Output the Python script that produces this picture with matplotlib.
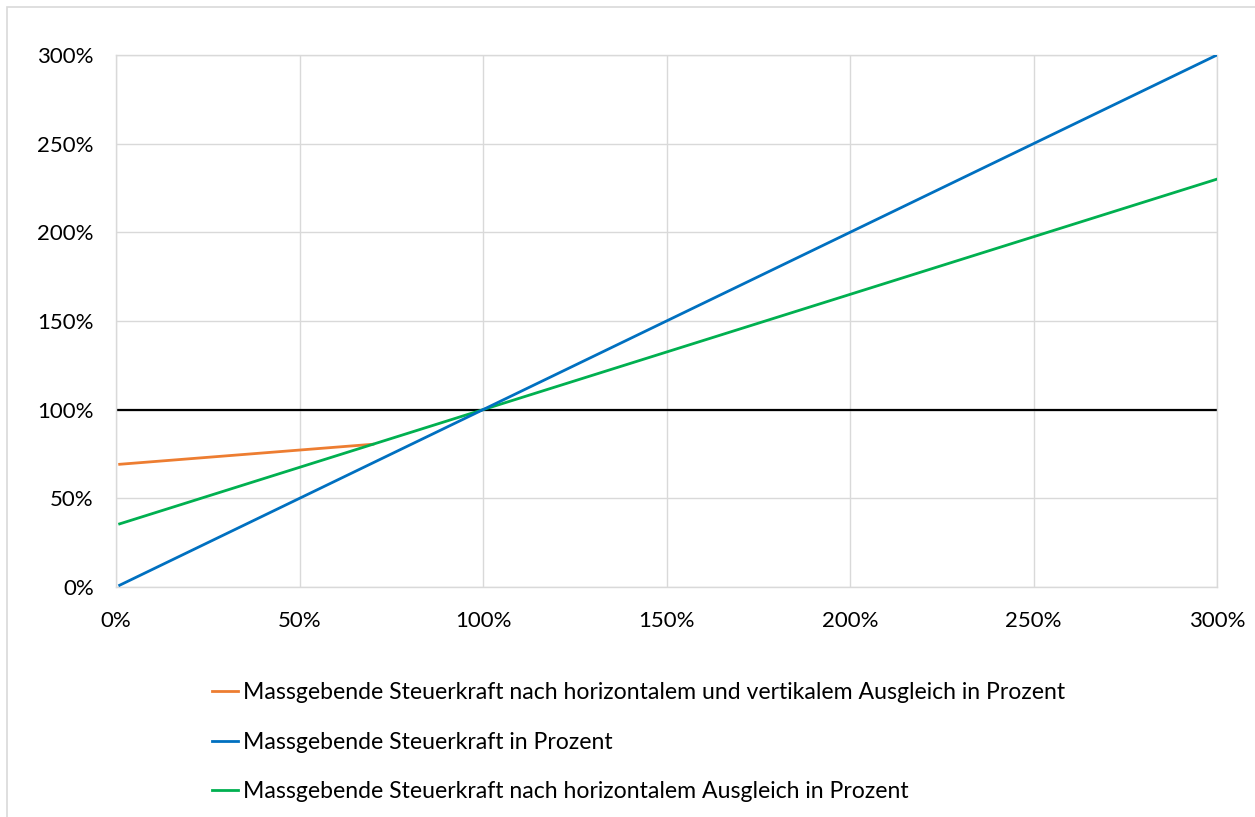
import matplotlib
matplotlib.use("Agg")
import matplotlib.pyplot as plt
from matplotlib.patches import Rectangle
from matplotlib.ticker import PercentFormatter

plt.rcParams['font.family'] = ['Lato', 'DejaVu Sans']

# Data (percent)
orange_x = [1, 70]
orange_y = [69.2, 80.5]
blue_x = [1, 100, 300]
blue_y = [1, 100, 300]
green_x = [1, 100, 300]
green_y = [35.6, 100, 230]
ref_level = 100

labels = [
    "Massgebende Steuerkraft nach horizontalem und vertikalem Ausgleich in Prozent",
    "Massgebende Steuerkraft in Prozent",
    "Massgebende Steuerkraft nach horizontalem Ausgleich in Prozent",
]
ticks = [0, 50, 100, 150, 200, 250, 300]

W, H = 1255, 817
fig = plt.figure(figsize=(W / 100, H / 100), dpi=100)
fig.patches.append(Rectangle((7 / W, -0.1), 1.2, 1 - 7 / H + 0.1, transform=fig.transFigure,
                             fill=False, edgecolor='#D9D9D9', linewidth=1.2))
ax = fig.add_axes([116 / W, 1 - 587 / H, (1217 - 116) / W, (587 - 55) / H])

ax.axhline(ref_level, color='black', linewidth=1.6, zorder=2)
lo, = ax.plot(orange_x, orange_y, color='#ED7D31', linewidth=2.0, zorder=3)
lb, = ax.plot(blue_x, blue_y, color='#0070C0', linewidth=2.0, zorder=4)
lg, = ax.plot(green_x, green_y, color='#00B050', linewidth=2.0, zorder=3)

ax.set_xlim(0, 300)
ax.set_ylim(0, 300)
ax.set_xticks(ticks)
ax.set_yticks(ticks)
ax.xaxis.set_major_formatter(PercentFormatter(decimals=0))
ax.yaxis.set_major_formatter(PercentFormatter(decimals=0))
ax.grid(True, color='#D9D9D9', linewidth=1.0, zorder=0)
ax.set_axisbelow(True)
for s in ax.spines.values():
    s.set_color('#D9D9D9')
    s.set_linewidth(1.0)
ax.tick_params(length=0, labelsize=16, colors='black')
ax.tick_params(axis='x', pad=17)
ax.tick_params(axis='y', pad=16)

fig.legend([lo, lb, lg], labels, loc='upper left', bbox_to_anchor=(203 / W, 1 - 673 / H),
           frameon=False, fontsize=16.6, handlelength=1.1, handletextpad=0.25,
           labelspacing=1.24, borderaxespad=0)

fig.savefig('out.png', dpi=100)
